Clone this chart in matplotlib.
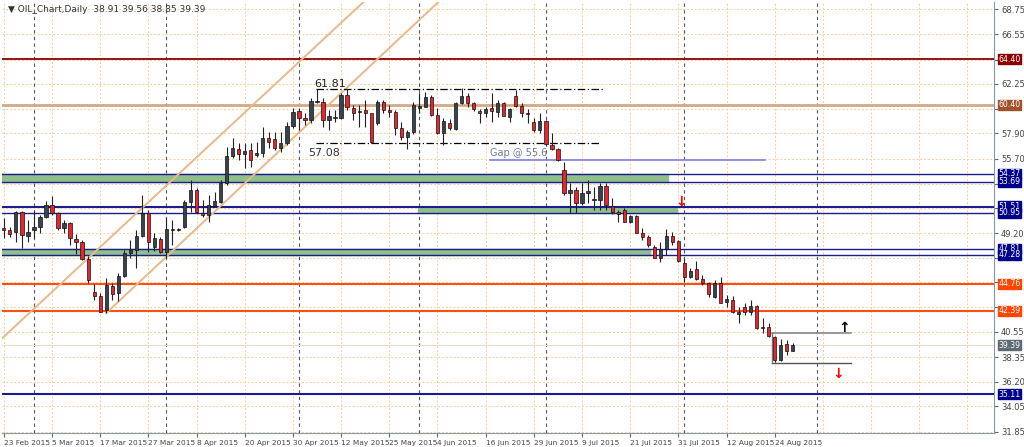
import matplotlib
matplotlib.use("Agg")
import matplotlib.pyplot as plt
from matplotlib.patches import Rectangle

date_labels = ["23 Feb 2015","5 Mar 2015","17 Mar 2015","27 Mar 2015","8 Apr 2015","20 Apr 2015",
               "30 Apr 2015","12 May 2015","25 May 2015","4 Jun 2015","16 Jun 2015","29 Jun 2015",
               "9 Jul 2015","21 Jul 2015","31 Jul 2015","12 Aug 2015","24 Aug 2015"]
date_tick_bars = [0,8,16,24,32,40,48,56,64,72,80,88,96,104,112,120,128]
month_start_bars = [5,27,49,69,90,113,135]
price_ticks = [68.75,66.55,64.35,62.25,60.05,57.90,55.70,53.50,51.35,49.20,47.05,44.90,42.70,40.55,38.35,36.20,34.05,31.85]
hidden_tick_labels = [64.35,60.05,53.50,51.35,47.05,44.90,42.70]

opens = [49.63,49.45,49.28,51.03,48.93,49.45,49.72,50.59,51.64,50.94,49.63,50.07,48.67,48.41,46.92,44.04,43.69,42.46,44.56,43.95,
         45.44,47.45,47.71,48.93,50.94,47.97,48.67,47.54,49.54,49.45,49.72,51.90,52.95,50.94,50.77,51.55,51.90,53.57,55.92,56.54,
         56.10,56.45,56.01,56.19,57.50,57.41,56.62,57.06,58.55,59.86,59.25,59.07,60.64,60.64,59.07,59.33,59.25,61.26,60.12,59.77,
         59.94,59.68,58.81,60.64,59.94,59.77,58.37,57.59,58.02,60.12,60.21,61.08,59.51,57.94,58.81,58.29,60.56,61.17,60.56,59.86,
         59.68,60.12,59.77,60.56,59.33,61.17,60.30,59.68,58.90,58.20,58.98,56.89,56.54,54.70,52.69,52.95,51.81,52.69,52.07,52.07,
         53.30,51.55,51.03,51.20,50.15,50.68,49.20,48.85,47.97,47.01,47.80,48.93,48.50,46.57,45.35,46.05,45.17,44.83,43.60,44.83,
         43.16,43.34,42.12,42.73,42.29,42.82,40.89,40.98,40.10,38.09,39.49,38.91]
highs = [50.50,49.74,51.12,51.12,50.32,51.12,50.77,51.99,52.43,51.03,50.32,50.15,49.10,48.58,47.18,44.74,43.95,45.26,44.83,45.70,
         47.71,48.58,49.45,52.52,51.20,49.20,48.85,50.51,50.32,49.60,52.07,53.82,53.13,52.07,52.52,52.78,53.82,56.71,57.50,57.06,
         57.06,57.06,57.15,58.46,58.02,58.02,58.02,58.90,60.12,60.12,59.68,61.00,61.81,61.00,59.94,59.94,61.43,61.78,60.38,60.38,
         60.82,59.68,60.82,60.82,60.38,59.94,58.90,58.20,60.64,61.43,61.52,61.26,60.12,59.25,59.16,60.64,61.87,61.43,60.64,60.03,
         60.21,61.43,60.82,60.64,60.12,61.69,60.56,60.03,59.25,59.68,59.07,57.94,56.62,55.40,53.57,53.22,53.57,53.82,53.22,53.57,
         53.57,52.26,51.20,51.38,50.77,50.77,49.63,49.02,48.15,48.41,49.54,49.28,48.58,46.92,46.14,46.75,45.52,44.91,45.08,45.35,
         43.78,43.69,42.73,43.08,43.34,42.90,41.76,41.33,40.19,39.93,39.84,39.56]
lows = [48.76,48.87,48.41,47.88,48.41,48.76,49.20,50.51,50.77,49.45,49.20,48.15,47.36,46.83,44.83,43.33,42.29,42.20,43.33,43.25,
        45.35,47.01,46.14,48.85,47.54,47.62,47.45,47.01,48.15,49.40,49.63,51.03,50.94,50.59,50.15,51.55,51.81,53.39,55.75,55.57,
        54.88,54.96,55.84,55.84,56.62,56.45,56.27,56.89,58.37,58.20,58.63,58.81,60.56,58.46,58.20,58.90,59.16,59.94,59.07,58.46,
        58.46,57.08,58.63,59.68,59.33,57.76,57.32,56.54,57.85,59.68,60.21,59.42,57.85,56.89,58.20,58.20,60.47,60.21,59.86,58.81,
        59.33,58.90,59.33,59.42,58.90,60.21,59.33,58.81,58.02,57.94,56.89,56.45,55.49,52.52,50.94,50.94,51.64,51.81,51.20,51.20,
        51.20,50.85,50.15,50.15,50.07,49.20,48.58,47.97,47.01,46.66,47.27,48.15,46.66,44.91,45.26,45.08,44.65,43.60,43.51,43.08,
        42.73,42.20,41.33,42.03,42.03,40.80,40.45,40.10,37.92,38.00,38.53,38.85]
closes = [49.45,49.10,51.03,49.02,49.28,49.72,50.59,51.64,50.94,49.63,50.07,48.76,48.41,46.92,45.08,43.69,42.29,44.65,43.86,45.44,
          47.45,47.71,48.93,50.94,48.41,48.76,47.54,49.54,49.45,49.50,51.90,52.95,51.03,50.77,51.64,51.99,53.57,55.92,56.62,56.10,
          56.36,55.57,56.19,57.50,57.15,56.62,57.06,58.55,59.77,59.25,59.07,60.73,60.73,59.07,59.42,59.25,61.26,60.21,59.68,59.86,
          59.68,57.15,60.64,59.94,59.77,58.37,57.59,58.02,60.38,60.30,61.08,59.51,57.94,58.98,58.37,60.56,61.17,60.56,60.03,59.68,
          60.03,59.86,60.56,59.42,60.03,60.30,59.68,59.59,58.20,58.98,56.97,56.54,55.57,52.69,52.95,51.81,52.69,52.87,52.12,53.30,
          51.64,51.03,50.85,50.15,50.68,49.20,48.85,48.15,47.01,47.80,48.93,48.41,46.75,45.35,45.87,45.17,44.83,43.86,44.83,43.08,
          43.43,42.29,42.29,42.29,42.82,40.89,40.98,40.19,38.09,39.41,38.88,39.39]

level_colors = {64.40:"#8b0000",60.40:"#a0522d",54.37:"#00008b",53.69:"#00008b",51.51:"#00008b",50.95:"#00008b",
                47.81:"#00008b",47.28:"#00008b",44.76:"#ff4500",42.39:"#ff4500",39.39:"#5f6b73",35.11:"#00008b"}

fig = plt.figure(figsize=(10.24,4.47), dpi=100)
ax = fig.add_axes([2/1024, 14/447, 992/1024, 431/447])
ax.set_xlim(-0.3, 164.4)
ax.set_ylim(31.72, 69.39)

for p in price_ticks:
    ax.axhline(p, color="#f8cf9a", lw=0.7, ls=(0,(2,2)), zorder=0)
for b in date_tick_bars + list(range(136, 165, 8)):
    ax.axvline(b, color="#f8cf9a", lw=0.7, ls=(0,(2,2)), zorder=0)
for b in month_start_bars:
    ax.axvline(b, color="#555555", lw=0.8, ls=(0,(3,3)), zorder=0.5)

ax.add_patch(Rectangle((-1, 53.69), 111.3, 0.68, color="#8fbf8a", zorder=1))
ax.add_patch(Rectangle((68.7, 50.95), 43.0, 0.56, color="#8fbf8a", zorder=1))
ax.add_patch(Rectangle((-1, 47.28), 108.3, 0.53, color="#8fbf8a", zorder=1))

ax.axhline(64.40, color="#8b0000", lw=1.3, zorder=2)
ax.axhline(60.40, color="#d2a887", lw=2.0, zorder=2)
for p, w in [(54.37,1.0),(53.69,1.0),(51.51,1.5),(50.95,1.0),(47.81,1.0),(47.28,1.0),(35.11,1.5)]:
    ax.axhline(p, color="#1c1c8c", lw=w, zorder=2)
ax.axhline(44.76, color="#ff5010", lw=1.5, zorder=2)
ax.axhline(42.39, color="#ff5010", lw=1.5, zorder=2)
ax.axhline(39.39, color="#f0dcc8", lw=0.8, zorder=1)

ax.plot([-1, 61], [40.72-0.49*2.2, 40.72+0.49*59.8], color="#e8b98a", lw=1.4, zorder=2)
ax.plot([17, 73], [42.20, 42.20+0.493*56], color="#e8b98a", lw=1.4, zorder=2)

ax.plot([51.8, 99.5], [61.81, 61.81], color="black", lw=0.9, ls=(0,(6,2,1,2)), zorder=3)
ax.plot([51.8, 99.0], [57.08, 57.08], color="black", lw=0.9, ls=(0,(6,2,1,2)), zorder=3)
ax.text(51.5, 62.0, "61.81", fontsize=8, color="#222222", zorder=4)
ax.text(50.5, 55.95, "57.08", fontsize=8, color="#333333", zorder=4)

ax.plot([80.8, 126.4], [55.6, 55.6], color="#7f7fe0", lw=1.2, zorder=2)
ax.text(80.8, 55.95, "Gap @ 55.6", fontsize=7, color="#6f7a99", zorder=4)

ax.plot([127.6, 140.6], [40.48, 40.48], color="#888888", lw=1.2, zorder=2)
ax.plot([127.6, 140.6], [37.80, 37.80], color="#555555", lw=1.0, zorder=2)
ax.plot([127.6, 127.6], [37.80, 40.48], color="#777777", lw=1.0, zorder=2)
ax.text(139.5, 40.9, "\u2191", fontsize=10, fontweight="bold", color="black", ha="center", va="center", zorder=5)
ax.text(138.5, 36.9, "\u2193", fontsize=10, fontweight="bold", color="red", ha="center", va="center", zorder=5)
ax.text(112.5, 51.95, "\u2193", fontsize=10, fontweight="bold", color="red", ha="center", va="center", zorder=5)

for i, (o, h, l, c) in enumerate(zip(opens, highs, lows, closes)):
    ax.vlines(i, l, h, color="#222222", lw=0.8, zorder=6)
    bull = c >= o
    fc = "#37434f" if bull else "#e8242c"
    lo, hi = min(o, c), max(o, c)
    ax.add_patch(Rectangle((i-0.27, lo), 0.54, max(hi-lo, 0.06), facecolor=fc,
                           edgecolor="#111111", lw=0.5, zorder=7))

for s in ["top", "left"]:
    ax.spines[s].set_visible(False)
ax.spines["right"].set_color("#8898a8")
ax.spines["bottom"].set_color("#8898a8")
ax.yaxis.tick_right()
ax.set_yticks(price_ticks)
ax.set_yticklabels(["" if p in hidden_tick_labels else f"{p:.2f}" for p in price_ticks], fontsize=6, color="#444444")
ax.set_xticks(date_tick_bars)
ax.set_xticklabels(date_labels, fontsize=5.3, color="#444444", ha="left")
ax.tick_params(axis="both", length=3, color="#666666", pad=2)

for p, col in level_colors.items():
    ax.annotate(f"{p:.2f}", xy=(1.0, p), xycoords=("axes fraction", "data"), xytext=(3, 0),
                textcoords="offset points", fontsize=5.6, color="white", va="center", ha="left",
                bbox=dict(boxstyle="square,pad=0.08", fc=col, ec=col), zorder=10, annotation_clip=False)

fig.text(8/1024, 1-10/447, "\u25bc OIL_Chart,Daily  38.91 39.56 38.85 39.39", fontsize=6.5,
         color="#333333", va="center")

fig.savefig("out.png", dpi=100, facecolor="white")
